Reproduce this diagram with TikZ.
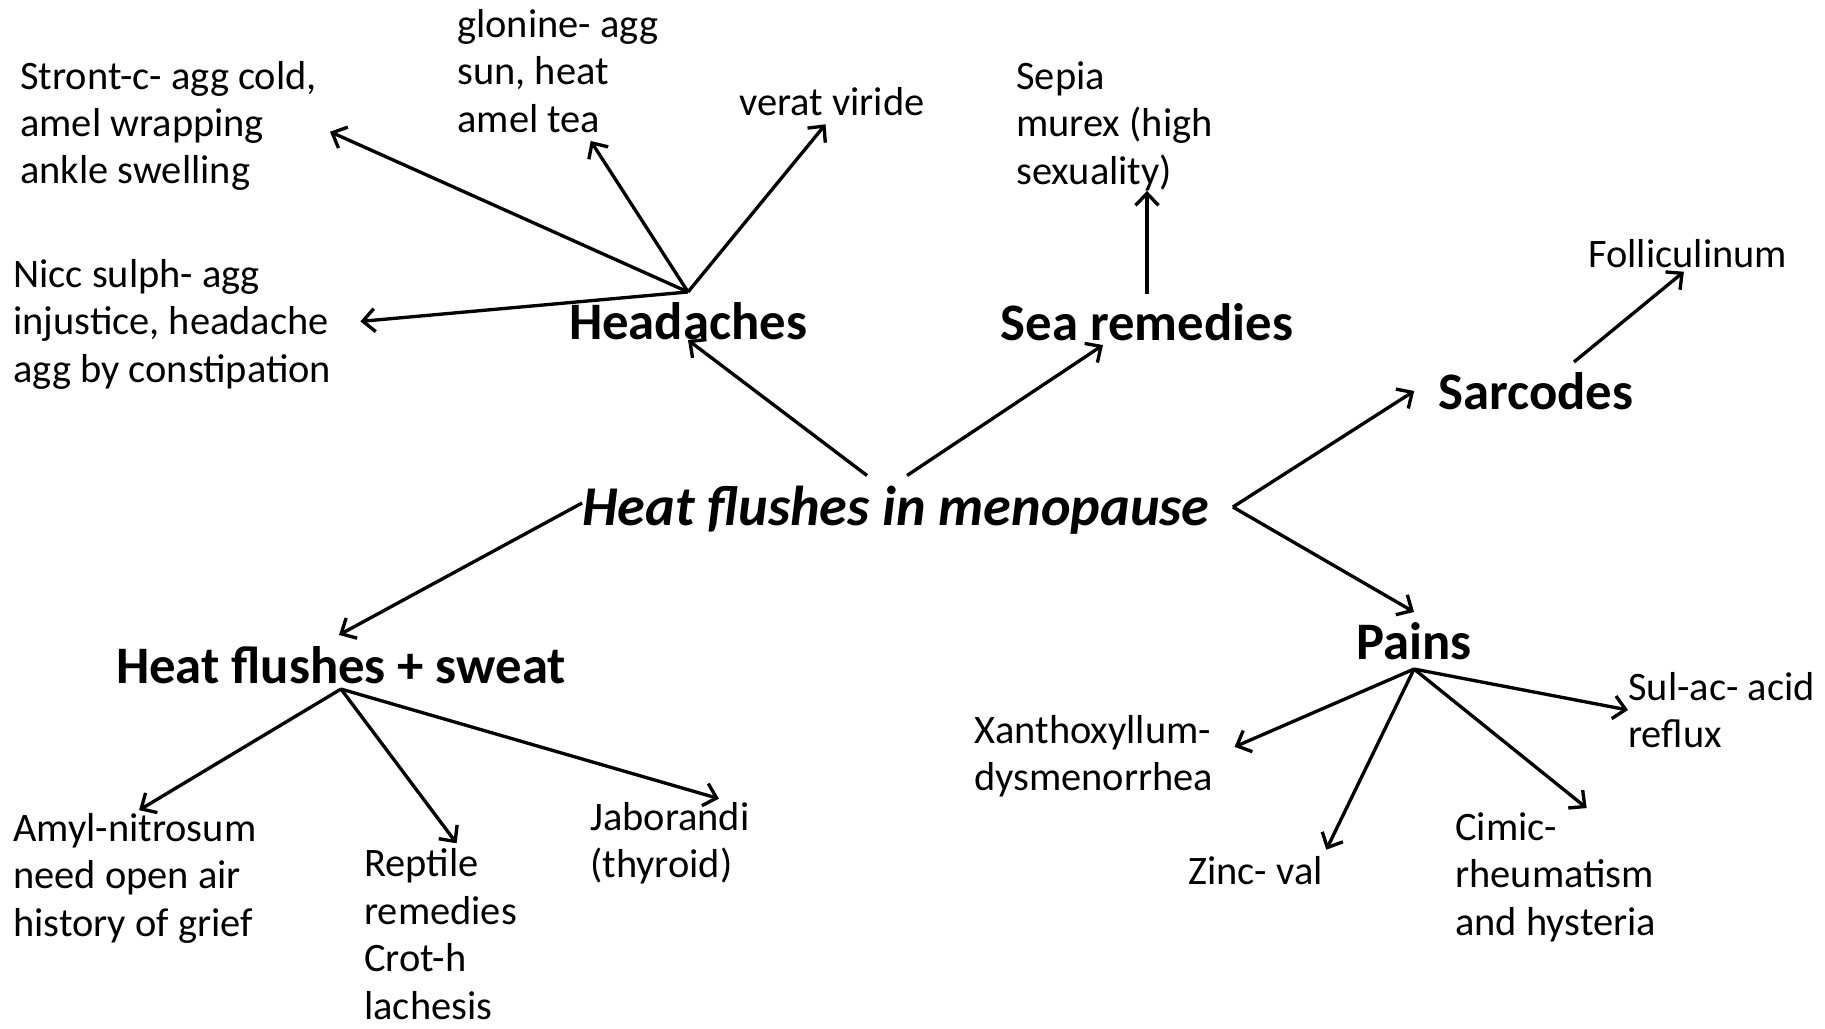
\documentclass[tikz,border=0pt]{standalone}
\usepackage{fontspec}
\setmainfont{Carlito}
\usetikzlibrary{arrows.meta, calc}

\begin{document}
\begin{tikzpicture}[
  x=0.02cm, y=-0.02cm,
  >={Straight Barb[length=2.4mm, width=4.6mm]},
  arr/.style={->, line width=1.9pt, black},
  hub/.style={font=\fontsize{32}{38}\selectfont\bfseries\itshape, inner sep=0pt},
  topic/.style={font=\fontsize{30}{36}\selectfont\bfseries, inner sep=0pt},
  leaf/.style={font=\fontsize{23}{27}\selectfont, align=left, anchor=west, inner sep=0pt},
]
\useasboundingbox (0,0) rectangle (1825,1028);

% === Centre and topics ===
\node[hub] (main) at (896,510) {Heat flushes in menopause};

\node[topic] (head) at (688,321) {Headaches};
\node[topic] (sea) at (1147,322) {Sea remedies};
\node[topic] (sarc) at (1536,391) {Sarcodes};
\node[topic] (pains) at (1414,641) {Pains};
\node[topic] (sweat) at (341,665) {Heat flushes + sweat};

% === Leaves ===
\node[leaf] (stront) at (20,126) {Stront-c- agg cold,\\amel wrapping\\ankle swelling};
\node[leaf] (glonine) at (457,71) {glonine- agg\\sun, heat\\amel tea};
\node[leaf] (verat) at (739,102) {verat viride};
\node[leaf] (nicc) at (13,324) {Nicc sulph- agg\\injustice, headache\\agg by constipation};
\node[leaf] (sepia) at (1016,126) {Sepia\\murex (high\\sexuality)};
\node[leaf] (follic) at (1588,254) {Folliculinum};
\node[leaf] (amyl) at (13,878) {Amyl-nitrosum\\need open air\\history of grief};
\node[leaf] (reptile) at (364,934) {Reptile\\remedies\\Crot-h\\lachesis};
\node[leaf] (jabor) at (590,843) {Jaborandi\\(thyroid)};
\node[leaf] (xanth) at (974,756) {Xanthoxyllum-\\dysmenorrhea};
\node[leaf] (zinc) at (1188,871) {Zinc- val};
\node[leaf] (cimic) at (1455,877) {Cimic-\\rheumatism\\and hysteria};
\node[leaf] (sulac) at (1628,710) {Sul-ac- acid\\reflux};

% === Branches from the centre ===
\coordinate (mainfork) at ($(main.east)+(23,-3)$);
\draw[arr] ($(main.north)+(-29,-10)$) -- (head.south);
\draw[arr] ($(main.north)+(11,-10)$) -- ($(sea.south)+(-44,4)$);
\draw[arr] (mainfork) -- ($(sarc.west)+(-24,0)$);
\draw[arr] (mainfork) -- ($(pains.north)+(0,-10)$);
\draw[arr] ($(main.west)+(0,-7)$) -- ($(sweat.north)+(-2,-11)$);

% === Headaches ===
\coordinate (headfan) at ($(head.north)+(0,-10)$);
\draw[arr, shorten >=0.28cm] (headfan) -- (stront.east);
\draw[arr] (headfan) -- ($(glonine.south)+(33,8)$);
\draw[arr, shorten >=0.2cm] (headfan) -- (verat.south);
\draw[arr, shorten >=0.58cm] (headfan) -- (nicc.east);

% === Sea remedies ===
\coordinate (seafan) at ($(sea.north)+(0,-9)$);
\draw[arr] (seafan) -- (seafan |- sepia.south);

% === Sarcodes ===
\coordinate (sarcfan) at ($(sarc.north)+(38,-10)$);
\draw[arr, shorten >=0.1cm] (sarcfan) -- (follic.south);

% === Heat flushes + sweat ===
\coordinate (sweatfan) at ($(sweat.south)+(0,5)$);
\draw[arr, shorten >=0.1cm] (sweatfan) -- (amyl.north);
\draw[arr] (sweatfan) -- ($(reptile.north)+(16,-5)$);
\draw[arr] (sweatfan) -- ($(jabor.north)+(49,-3)$);

% === Pains ===
\coordinate (painfan) at ($(pains.south)+(0,9)$);
\draw[arr, shorten >=0.46cm] (painfan) -- (xanth.east);
\draw[arr, shorten >=0.15cm] (painfan) -- (zinc.north east);
\draw[arr] (painfan) -- ($(cimic.north)+(31,-4)$);
\draw[arr] (painfan) -- (sulac.west);

\end{tikzpicture}
\end{document}
